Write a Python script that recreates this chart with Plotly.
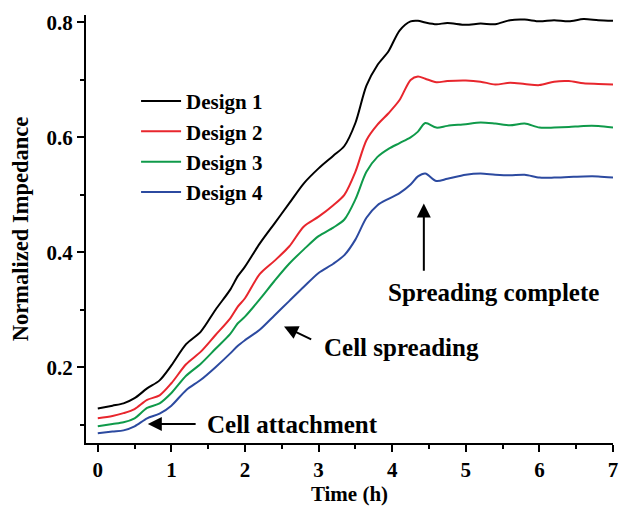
import plotly.graph_objects as go

time_h = [0, 0.2, 0.35, 0.5, 0.67, 0.84, 1.0, 1.2, 1.4, 1.6, 1.8, 1.9, 2.0, 2.2, 2.4, 2.6, 2.8,
          3.0, 3.2, 3.35, 3.5, 3.65, 3.8, 3.95, 4.1, 4.25, 4.35, 4.45, 4.6, 4.75, 5.0, 5.2, 5.4,
          5.6, 5.8, 6.0, 6.2, 6.4, 6.6, 6.8, 7.0]

design1 = [0.128, 0.133, 0.137, 0.146, 0.163, 0.177, 0.203, 0.240, 0.262, 0.300, 0.335, 0.358,
           0.375, 0.415, 0.450, 0.485, 0.520, 0.546, 0.568, 0.585, 0.625, 0.690, 0.726, 0.750,
           0.786, 0.802, 0.803, 0.800, 0.797, 0.799, 0.796, 0.798, 0.797, 0.804, 0.805, 0.802,
           0.804, 0.802, 0.806, 0.804, 0.803]
design2 = [0.111, 0.115, 0.120, 0.127, 0.143, 0.151, 0.172, 0.205, 0.227, 0.256, 0.285, 0.305,
           0.320, 0.362, 0.385, 0.410, 0.445, 0.462, 0.482, 0.500, 0.540, 0.595, 0.622, 0.642,
           0.665, 0.700, 0.706, 0.702, 0.696, 0.698, 0.699, 0.697, 0.692, 0.695, 0.693, 0.691,
           0.697, 0.698, 0.694, 0.693, 0.692]
design3 = [0.097, 0.101, 0.104, 0.111, 0.129, 0.137, 0.155, 0.185, 0.206, 0.232, 0.258, 0.276,
           0.288, 0.318, 0.350, 0.380, 0.405, 0.428, 0.443, 0.457, 0.492, 0.540, 0.566, 0.580,
           0.590, 0.600, 0.610, 0.625, 0.617, 0.620, 0.623, 0.626, 0.624, 0.621, 0.624, 0.617,
           0.617, 0.618, 0.620, 0.620, 0.617]
design4 = [0.085, 0.088, 0.090, 0.097, 0.111, 0.119, 0.133, 0.160, 0.178, 0.200, 0.224, 0.237,
           0.247, 0.265, 0.290, 0.315, 0.340, 0.364, 0.380, 0.395, 0.422, 0.460, 0.482, 0.493,
           0.503, 0.518, 0.532, 0.537, 0.524, 0.528, 0.535, 0.537, 0.535, 0.534, 0.535, 0.530,
           0.530, 0.531, 0.532, 0.532, 0.530]

series_names = ["Design 1", "Design 2", "Design 3", "Design 4"]
series_values = [design1, design2, design3, design4]
series_colors = ["#000000", "#e8262d", "#0f9a4a", "#2c4aa0"]

x_tick_vals = [0, 1, 2, 3, 4, 5, 6, 7]
y_tick_vals = [0.2, 0.4, 0.6, 0.8]

FONT = "Liberation Serif"


def bold(size):
    return dict(family=FONT, size=size, color="black", weight="bold")


fig = go.Figure()
for name, vals, col in zip(series_names, series_values, series_colors):
    fig.add_trace(go.Scatter(x=time_h, y=vals, mode="lines", name=name,
                             line=dict(color=col, width=2, shape="spline", smoothing=0.8)))

axis_common = dict(showline=True, linecolor="black", linewidth=2, ticks="outside",
                   ticklen=7, tickwidth=2, tickcolor="black", showgrid=False, zeroline=False,
                   tickfont=bold(21), automargin=False)

fig.update_xaxes(range=[-0.16, 7.0], tickvals=x_tick_vals,
                 minor=dict(dtick=0.5, tick0=0, ticks="outside", ticklen=4, tickwidth=2, tickcolor="black"),
                 title=dict(text="Time (h)", font=bold(21), standoff=8),
                 **axis_common)
fig.update_yaxes(range=[0.068, 0.813], tickvals=y_tick_vals, tickformat=".1f",
                 minor=dict(dtick=0.1, tick0=0, ticks="outside", ticklen=4, tickwidth=2, tickcolor="black"),
                 title=dict(text="Normalized Impedance", font=bold(22.5), standoff=12),
                 **axis_common)

ann_font = bold(25)
arrow = dict(xref="x", yref="y", axref="x", ayref="y", showarrow=True, arrowhead=2,
             arrowsize=1.4, arrowwidth=2, arrowcolor="black", text="")
# Cell attachment
fig.add_annotation(x=0.68, y=0.101, ax=1.35, ay=0.101, **arrow)
fig.add_annotation(x=1.45, y=0.101, xref="x", yref="y", text="Cell attachment",
                   showarrow=False, xanchor="left", yanchor="middle", font=ann_font)
# Cell spreading
fig.add_annotation(x=2.53, y=0.271, ax=2.92, ay=0.247, **arrow)
fig.add_annotation(x=3.04, y=0.235, xref="x", yref="y", text="Cell spreading",
                   showarrow=False, xanchor="left", yanchor="middle", font=ann_font)
# Spreading complete
fig.add_annotation(x=4.43, y=0.485, ax=4.43, ay=0.365, **arrow)
fig.add_annotation(x=5.37, y=0.33, xref="x", yref="y", text="Spreading complete",
                   showarrow=False, xanchor="center", yanchor="middle", font=ann_font)

fig.update_layout(
    width=619, height=506,
    margin=dict(l=86, r=6, t=15, b=63),
    plot_bgcolor="white", paper_bgcolor="white",
    legend=dict(x=0.095, y=0.846, xanchor="left", yanchor="top", bgcolor="rgba(0,0,0,0)",
                font=bold(21), itemwidth=40, tracegroupgap=0),
    font=dict(family=FONT),
)

fig.write_html("out.html")
